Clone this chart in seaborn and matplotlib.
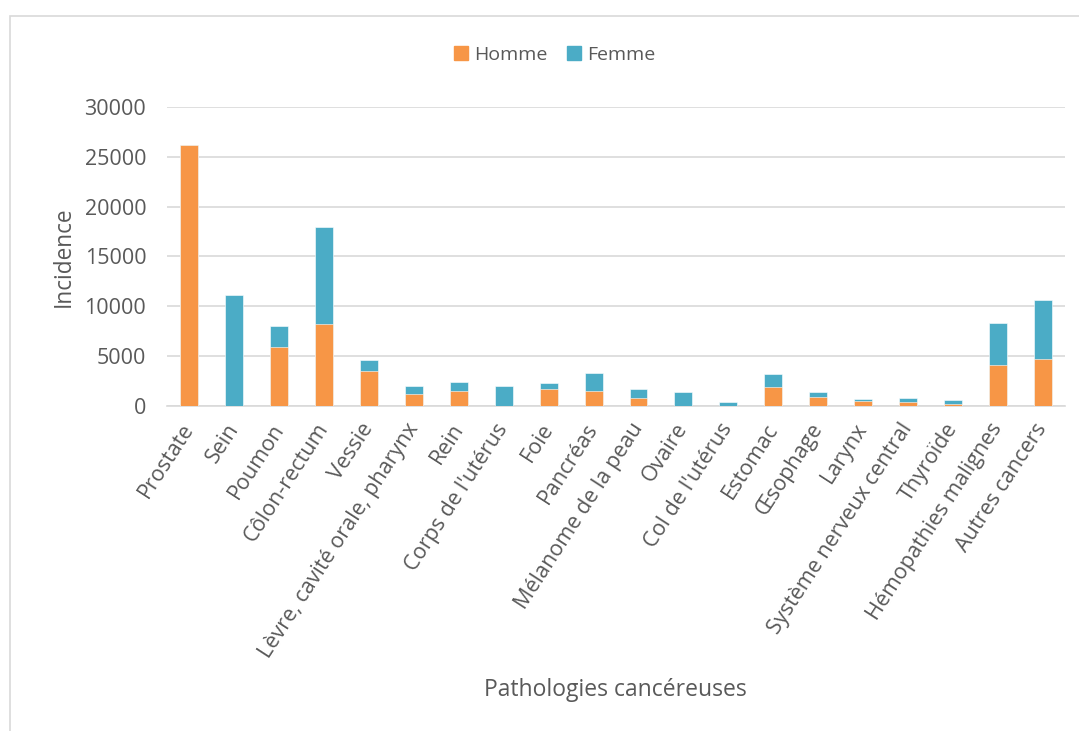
import matplotlib
matplotlib.use("Agg")
import matplotlib.pyplot as plt
import seaborn as sns
import pandas as pd
from matplotlib.patches import Patch, Rectangle

categories = [
    "Prostate", "Sein", "Poumon", "Côlon-rectum", "Vessie",
    "Lèvre, cavité orale, pharynx", "Rein", "Corps de l'utérus", "Foie",
    "Pancréas", "Mélanome de la peau", "Ovaire", "Col de l'utérus",
    "Estomac", "Œsophage", "Larynx", "Système nerveux central",
    "Thyroïde", "Hémopathies malignes", "Autres cancers",
]
homme = [26150, 0, 5890, 8230, 3480, 1170, 1430, 0, 1630, 1430,
         770, 0, 0, 1850, 870, 500, 370, 150, 4070, 4650]
femme = [0, 11100, 2110, 9680, 1070, 840, 940, 2000, 700, 1900,
         900, 1330, 370, 1370, 500, 130, 430, 450, 4220, 5950]
yticks = [0, 5000, 10000, 15000, 20000, 25000, 30000]

ORANGE = "#F79646"
BLUE = "#4BACC6"
GREY_TXT = "#595959"

df = pd.DataFrame({"Pathologie": categories, "Homme": homme, "Femme": femme})
df["Total"] = df["Homme"] + df["Femme"]

sns.set_style("white")
plt.rcParams["font.family"] = ["Open Sans", "DejaVu Sans"]

fig = plt.figure(figsize=(10.79, 7.31), dpi=100)
ax = fig.add_axes([0.1548, 0.445, 0.8323, 0.4087])

# chart frame
fig.patches.append(Rectangle((10 / 1079, -0.01), 1.1, 1 - 16 / 731 + 0.01,
                             transform=fig.transFigure, fill=False,
                             edgecolor="#D9D9D9", linewidth=1.2))

sns.barplot(data=df, x="Pathologie", y="Total", color=BLUE, width=0.4,
            saturation=1, edgecolor="white", linewidth=0.4, ax=ax, zorder=3)
sns.barplot(data=df, x="Pathologie", y="Homme", color=ORANGE, width=0.4,
            saturation=1, edgecolor="white", linewidth=0.4, ax=ax, zorder=4)

ax.set_ylim(0, 30000)
ax.set_xlim(-0.5, len(categories) - 0.5)
ax.set_yticks(yticks)
ax.yaxis.grid(True, color="#D9D9D9", linewidth=1.2, zorder=0)
ax.set_axisbelow(True)
for s in ["top", "right", "left"]:
    ax.spines[s].set_visible(False)
ax.spines["bottom"].set_color("#D9D9D9")
ax.spines["bottom"].set_linewidth(1.2)

ax.tick_params(axis="both", length=0, labelsize=15.5, labelcolor=GREY_TXT)
ax.tick_params(axis="y", pad=15)
ax.tick_params(axis="x", pad=14)
plt.setp(ax.get_xticklabels(), rotation=57, ha="right", va="center",
         rotation_mode="anchor")

ax.set_xlabel("")
ax.set_ylabel("Incidence", fontsize=16.3, color=GREY_TXT, labelpad=6)
fig.text(0.57, 0.056, "Pathologies cancéreuses", ha="center", va="center",
         fontsize=16.5, color=GREY_TXT)

handles = [Patch(color=ORANGE, label="Homme"), Patch(color=BLUE, label="Femme")]
fig.legend(handles=handles, loc="center", bbox_to_anchor=(0.514, 0.925),
           ncol=2, frameon=False, fontsize=14, handlelength=0.75,
           handleheight=0.75, handletextpad=0.3, columnspacing=1.0,
           labelcolor=GREY_TXT)

fig.savefig("out.png", dpi=100)
